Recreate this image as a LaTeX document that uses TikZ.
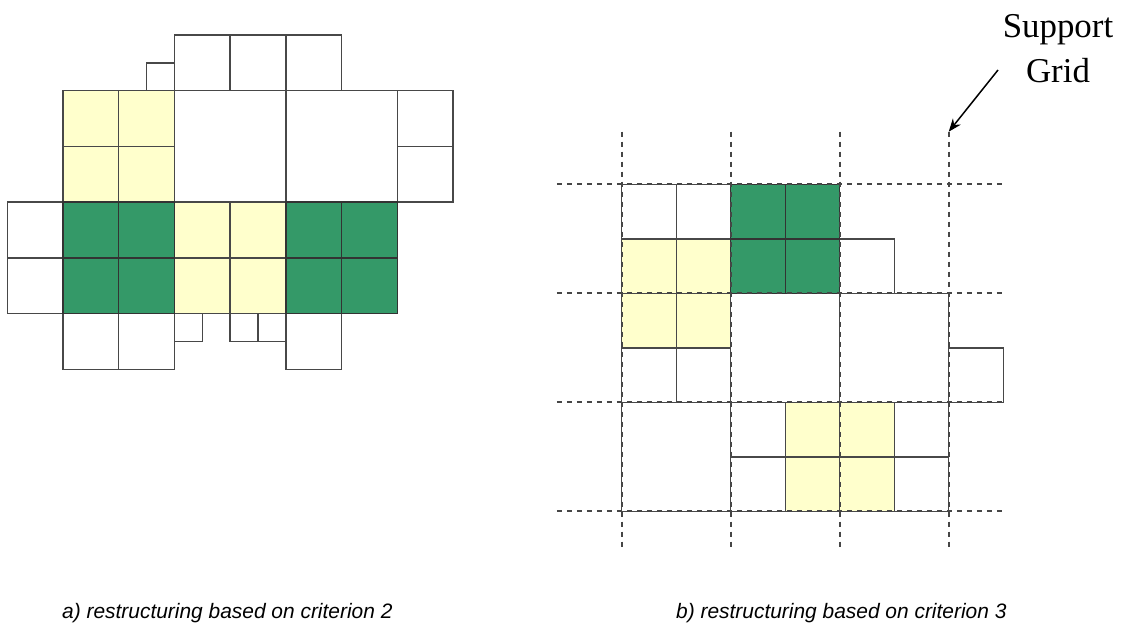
\documentclass[tikz,border=0pt]{standalone}
\usepackage{fontspec}
\setmainfont{Liberation Serif}
\newfontfamily\capfont{Liberation Sans}
\usetikzlibrary{arrows.meta}
\definecolor{cgreen}{RGB}{52,153,104}
\definecolor{cyellow}{RGB}{255,255,204}
\definecolor{cline}{RGB}{72,72,72}
\definecolor{cdash}{RGB}{70,70,70}
\tikzset{
  cellw/.style={draw=cline, line width=1.4bp, fill=white},
  celly/.style={draw=cline, line width=1.4bp, fill=cyellow},
  cellg/.style={draw=black!80, line width=1.4bp, fill=cgreen},
  gridline/.style={draw=cdash, line width=2bp, dash pattern=on 5.5bp off 4.5bp},
  caption/.style={font=\capfont\itshape\fontsize{21}{25}\selectfont, inner sep=0pt, anchor=base west},
  lbl/.style={font=\fontsize{35}{45}\selectfont, align=center, inner sep=0pt, anchor=north}
}
\begin{document}
\begin{tikzpicture}[x=1bp, y=-1bp]
\useasboundingbox (0,0) rectangle (1125,625);
% ---------- a) left diagram ----------
\begin{scope}[xshift=7.3bp, yshift=-35bp, x=55.7bp, y=-55.7bp]
  \foreach \c/\r in {3/0,4/0,5/0,7/1,7/2,0/3,0/4,1/5,2/5,5/5}
    \path[cellw] (\c,\r) rectangle ++(1,1);
  \path[cellw] (3,1) rectangle (5,3);
  \path[cellw] (5,1) rectangle (7,3);
  \path[cellw] (2.5,0.5) rectangle (3,1);
  \path[cellw] (3,5) rectangle (3.5,5.5);
  \path[cellw] (4,5) rectangle (4.5,5.5);
  \path[cellw] (4.5,5) rectangle (5,5.5);
  \foreach \c/\r in {1/1,2/1,1/2,2/2,3/3,4/3,3/4,4/4}
    \path[celly] (\c,\r) rectangle ++(1,1);
  \foreach \c/\r in {1/3,2/3,1/4,2/4,5/3,6/3,5/4,6/4}
    \path[cellg] (\c,\r) rectangle ++(1,1);
\end{scope}
% ---------- b) right diagram ----------
\begin{scope}[xshift=621.7bp, yshift=-184.3bp, x=54.5bp, y=-54.5bp]
  \foreach \c/\r in {0/0,1/0,4/1,0/3,1/3,6/3,2/4,2/5,5/4,5/5}
    \path[cellw] (\c,\r) rectangle ++(1,1);
  \path[cellw] (2,2) rectangle (4,4);
  \path[cellw] (4,2) rectangle (6,4);
  \path[cellw] (0,4) rectangle (2,6);
  \foreach \c/\r in {0/1,1/1,0/2,1/2,3/4,4/4,3/5,4/5}
    \path[celly] (\c,\r) rectangle ++(1,1);
  \foreach \c/\r in {2/0,3/0,2/1,3/1}
    \path[cellg] (\c,\r) rectangle ++(1,1);
  \foreach \k in {0,2,4,6} {
    \draw[gridline] (-1.19,\k) -- (7.03,\k);
    \draw[gridline] (\k,-0.965) -- (\k,6.67);
  }
  \coordinate (gridtop) at (6,-0.965);
\end{scope}
% ---------- label ----------
\node[lbl] (sg) at (1058,14.5) {Support\\Grid};
\coordinate (arrstart) at (998,70);
\draw[line width=1.5bp, -{Stealth[length=13bp,width=10bp]}] (arrstart) -- (gridtop);
% ---------- captions ----------
\node[caption] (capa) at (62,618) {a) restructuring based on criterion 2};
\node[caption] (capb) at (676,618) {b) restructuring based on criterion 3};
\end{tikzpicture}
\end{document}
